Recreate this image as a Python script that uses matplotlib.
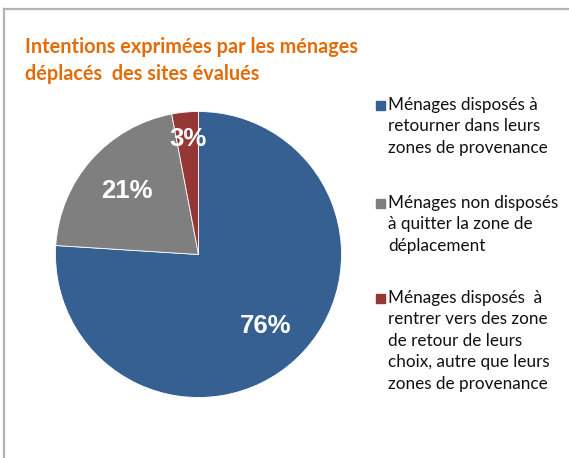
import matplotlib
matplotlib.use("Agg")
import matplotlib.pyplot as plt
import numpy as np
from matplotlib.patches import Rectangle
from matplotlib.lines import Line2D

title = "Intentions exprimées par les ménages\ndéplacés  des sites évalués"
categories = [
    "Ménages disposés à\nretourner dans leurs\nzones de provenance",
    "Ménages non disposés\nà quitter la zone de\ndéplacement",
    "Ménages disposés  à\nrentrer vers des zone\nde retour de leurs\nchoix, autre que leurs\nzones de provenance",
]
values = [76, 21, 3]
pct_labels = ["76%", "21%", "3%"]
colors = ["#366092", "#7F7F7F", "#953735"]
label_dist = [0.69, 0.67, 0.81]

W, H = 569, 458
fig = plt.figure(figsize=(W / 100, H / 100), dpi=100)
fig.patch.set_facecolor("white")

def fx(px):
    return px / W

def fy(py):
    return 1 - py / H

# frame (top & left visible)
fig.add_artist(Line2D([fx(4), fx(4)], [fy(9), fy(H + 5)], color="#B3B3B3", lw=1.6, transform=fig.transFigure))
fig.add_artist(Line2D([fx(4), fx(W + 5)], [fy(9), fy(9)], color="#B3B3B3", lw=1.6, transform=fig.transFigure))

# pie axes: center (198.5, 254.5), radius 143
cx, cy, r = 198.5, 254.5, 143
ax = fig.add_axes([fx(cx - r), fy(cy + r), 2 * r / W, 2 * r / H])
wedges, _ = ax.pie(values, colors=colors, startangle=90, counterclock=False,
                   radius=1.0, wedgeprops=dict(linewidth=0.6, edgecolor="white"))
ax.set_xlim(-1, 1)
ax.set_ylim(-1, 1)
ax.set_aspect("equal")
ax.axis("off")

for w, lab, d in zip(wedges, pct_labels, label_dist):
    ang = np.deg2rad((w.theta1 + w.theta2) / 2)
    ax.text(d * np.cos(ang), d * np.sin(ang), lab, ha="center", va="center",
            color="white", fontsize=18.5, fontweight="bold", family="Liberation Sans")

# title
fig.text(fx(25), fy(37), title, ha="left", va="top", color="#E36C0A",
         fontsize=14.3, fontweight="bold", family="Lato", linespacing=1.42)

# legend
leg_y = [105, 203, 298]
for cat, col, y in zip(categories, colors, leg_y):
    fig.add_artist(Rectangle((fx(376), fy(y + 4.5)), 9 / W, 9 / H, color=col,
                             transform=fig.transFigure))
    fig.text(fx(388), fy(y - 8), cat, ha="left", va="top", color="#111111",
             fontsize=12.3, family="Lato", linespacing=1.42)

fig.savefig("out.png", dpi=100)
